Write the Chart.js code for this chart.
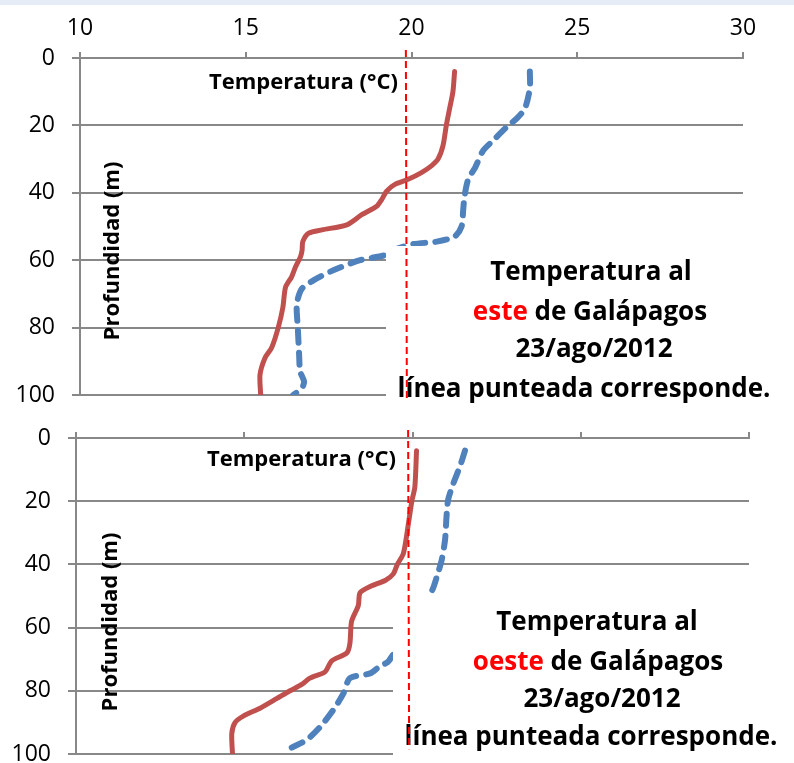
<!DOCTYPE html>
<html lang="es">
<head>
  <meta charset="UTF-8">
  <title>Temperatura al este y oeste de Galápagos</title>
  <script src="https://cdn.jsdelivr.net/npm/chart.js"></script>
  <style>
    body {
      margin: 0;
      background: #fff;
      width: 794px;
      height: 763px;
      overflow: hidden;
      position: relative;
    }
    .franja {
      position: absolute;
      left: 0;
      top: 0;
      width: 794px;
      height: 5px;
      background: #e5ecf5;
    }
    #graficoEste { position: absolute; left: 0; top: 0; }
    #graficoOeste { position: absolute; left: 0; top: 415px; }
  </style>
</head>
<body>
  <div class="franja"></div>
  <canvas id="graficoEste" width="794" height="420"></canvas>
  <canvas id="graficoOeste" width="794" height="348"></canvas>

  <script>
    // Ejes
    const tempTicks = [10, 15, 20, 25, 30];
    const profTicks = [0, 20, 40, 60, 80, 100];

    // Este de Galápagos - línea continua (roja)
    const esteRojaProf = [4, 10, 15, 20, 26, 30, 32, 34, 36, 37.5, 39.5, 42, 44, 46.5, 49.5, 51, 52, 54.5, 57, 59, 62, 65, 68, 74, 80, 86, 89, 94, 100];
    const esteRojaTemp = [21.3, 21.25, 21.15, 21.05, 20.95, 20.8, 20.6, 20.3, 19.9, 19.5, 19.25, 19.1, 18.95, 18.5, 18.05, 17.3, 16.9, 16.72, 16.7, 16.65, 16.5, 16.38, 16.2, 16.12, 15.98, 15.78, 15.58, 15.43, 15.45];

    // Este de Galápagos - línea punteada (azul)
    const esteAzulProf = [4, 9, 15, 18, 20.5, 24.5, 27.5, 32.5, 36, 41, 45, 50, 53, 54.5, 55.2, 56.5, 58.5, 60, 63, 66, 68.5, 73, 80, 88, 93, 96, 98, 100];
    const esteAzulTemp = [23.57, 23.57, 23.42, 23.17, 22.87, 22.46, 22.16, 21.92, 21.71, 21.6, 21.56, 21.51, 21.3, 20.76, 20.06, 19.6, 19.2, 18.45, 17.64, 17.04, 16.69, 16.54, 16.57, 16.61, 16.64, 16.76, 16.69, 16.43];

    // Oeste de Galápagos - línea continua (roja)
    const oesteRojaProf = [4, 15.5, 20, 27, 36.5, 40, 43, 45, 47, 49, 53, 58, 65, 68, 70.5, 74, 76, 78, 80, 82.5, 85.5, 88, 90, 93.5, 100];
    const oesteRojaTemp = [20.12, 20.07, 19.98, 19.88, 19.73, 19.55, 19.43, 19.2, 18.74, 18.44, 18.39, 18.19, 18.14, 18.05, 17.6, 17.4, 16.95, 16.71, 16.36, 15.96, 15.47, 14.97, 14.73, 14.63, 14.65];

    // Oeste de Galápagos - línea punteada (azul)
    const oesteAzulProf = [4, 9, 14.5, 19.5, 25, 32, 38.5, 44, 48.5, 70.5, 72.5, 74.5, 76, 81, 86, 91.5, 95.5, 98];
    const oesteAzulTemp = [21.56, 21.41, 21.21, 21.06, 21.01, 20.97, 20.87, 20.72, 20.57, 19.3, 19.0, 18.74, 18.14, 17.94, 17.65, 17.25, 16.86, 16.41];

    // Línea de referencia roja (trazo discontinuo)
    const esteRefProf = [-2.4, 101];
    const esteRefTemp = [19.83, 19.86];
    const oesteRefProf = [-2.5, 98.5];
    const oesteRefTemp = [19.87, 19.9];

    const puntos = (temp, prof) => temp.map((t, i) => ({ x: t, y: prof[i] }));

    const fuente = '"Open Sans", "DejaVu Sans", sans-serif';
    const gris = '#888888';

    // Textos y recuadro blanco dibujados encima de las curvas
    const anotaciones = {
      id: 'anotaciones',
      beforeDatasetsDraw(chart, args, o) {
        const ctx = chart.ctx;
        ctx.save();
        ctx.fillStyle = '#000';
        ctx.font = 'bold 22px ' + fuente;
        ctx.textBaseline = 'middle';
        ctx.textAlign = 'left';
        ctx.fillText('Temperatura (°C)', o.tituloX[0], o.tituloX[1]);
        ctx.translate(o.tituloY[0], o.tituloY[1]);
        ctx.rotate(-Math.PI / 2);
        ctx.textAlign = 'center';
        ctx.fillText('Profundidad (m)', 0, 0);
        ctx.restore();
      },
      beforeDatasetDraw(chart, args, o) {
        if (args.index !== 0) return;
        const ctx = chart.ctx;
        ctx.save();
        ctx.fillStyle = '#fff';
        ctx.fillRect(o.caja[0], o.caja[1], chart.width - o.caja[0], chart.height - o.caja[1]);
        ctx.font = 'bold 26px ' + fuente;
        ctx.textBaseline = 'alphabetic';
        o.lineas.forEach(l => {
          let ancho = 0;
          l.partes.forEach(p => { ancho += ctx.measureText(p[0]).width; });
          let x = l.cx - ancho / 2;
          l.partes.forEach(p => {
            ctx.fillStyle = p[1];
            ctx.fillText(p[0], x, l.y);
            x += ctx.measureText(p[0]).width;
          });
        });
        ctx.restore();
      }
    };

    function crearGrafico(id, datos, conEtiquetas, izq, arriba, padding, anot) {
      const ctx = document.getElementById(id).getContext('2d');
      return new Chart(ctx, {
        type: 'scatter',
        data: {
          datasets: [
            {
              data: datos.ref,
              showLine: true,
              borderColor: '#ff0000',
              borderWidth: 2,
              borderDash: [7, 4],
              pointRadius: 0,
              clip: false
            },
            {
              data: datos.roja,
              showLine: true,
              borderColor: '#c0504d',
              borderWidth: 5,
              borderCapStyle: 'round',
              borderJoinStyle: 'round',
              tension: 0.25,
              pointRadius: 0
            },
            {
              data: datos.azul,
              showLine: true,
              borderColor: '#4f81bd',
              borderWidth: 6,
              borderDash: [12, 10],
              borderCapStyle: 'round',
              borderJoinStyle: 'round',
              tension: 0.25,
              pointRadius: 0
            }
          ]
        },
        options: {
          responsive: false,
          animation: false,
          layout: { padding: padding },
          plugins: {
            legend: { display: false },
            tooltip: { enabled: false },
            anotaciones: anot
          },
          scales: {
            x: {
              type: 'linear',
              position: 'top',
              min: 10,
              max: 30,
              afterBuildTicks: s => { s.ticks = tempTicks.map(v => ({ value: v })); },
              ticks: { display: conEtiquetas, color: '#000', font: { family: fuente, size: 23 }, padding: 10 },
              grid: { drawOnChartArea: false, drawTicks: true, tickLength: 6, color: gris, lineWidth: 2 },
              border: { color: gris, width: 2 },
              afterFit: s => { s.height = arriba; s.paddingLeft = 0; s.paddingRight = 0; }
            },
            y: {
              type: 'linear',
              reverse: true,
              min: 0,
              max: 100,
              afterBuildTicks: s => { s.ticks = profTicks.map(v => ({ value: v })); },
              ticks: { color: '#000', font: { family: fuente, size: 23 }, padding: 17 },
              grid: { color: gris, lineWidth: 2, tickLength: 8 },
              border: { color: gris, width: 2 },
              afterFit: s => { s.width = izq; s.paddingTop = 0; s.paddingBottom = 0; }
            }
          }
        },
        plugins: [anotaciones]
      });
    }

    crearGrafico('graficoEste', {
      ref: puntos(esteRefTemp, esteRefProf),
      roja: puntos(esteRojaTemp, esteRojaProf),
      azul: puntos(esteAzulTemp, esteAzulProf)
    }, true, 80, 58, { left: 0, top: 0, right: 51, bottom: 25 }, {
      tituloX: [209, 83],
      tituloY: [113, 251],
      caja: [386, 246],
      lineas: [
        { cx: 591, y: 280, partes: [['Temperatura al', '#000']] },
        { cx: 590, y: 320, partes: [['este', '#ff0000'], [' de Galápagos', '#000']] },
        { cx: 594, y: 357, partes: [['23/ago/2012', '#000']] },
        { cx: 584, y: 397, partes: [['línea punteada corresponde.', '#000']] }
      ]
    });

    crearGrafico('graficoOeste', {
      ref: puntos(oesteRefTemp, oesteRefProf),
      roja: puntos(oesteRojaTemp, oesteRojaProf),
      azul: puntos(oesteAzulTemp, oesteAzulProf)
    }, false, 76, 23, { left: 0, top: 0, right: 45, bottom: 9 }, {
      tituloX: [207, 45],
      tituloY: [111, 207],
      caja: [393, 179],
      lineas: [
        { cx: 597, y: 215, partes: [['Temperatura al', '#000']] },
        { cx: 598, y: 255, partes: [['oeste', '#ff0000'], [' de Galápagos', '#000']] },
        { cx: 602, y: 292, partes: [['23/ago/2012', '#000']] },
        { cx: 591, y: 330, partes: [['línea punteada corresponde.', '#000']] }
      ]
    });
  </script>
</body>
</html>
